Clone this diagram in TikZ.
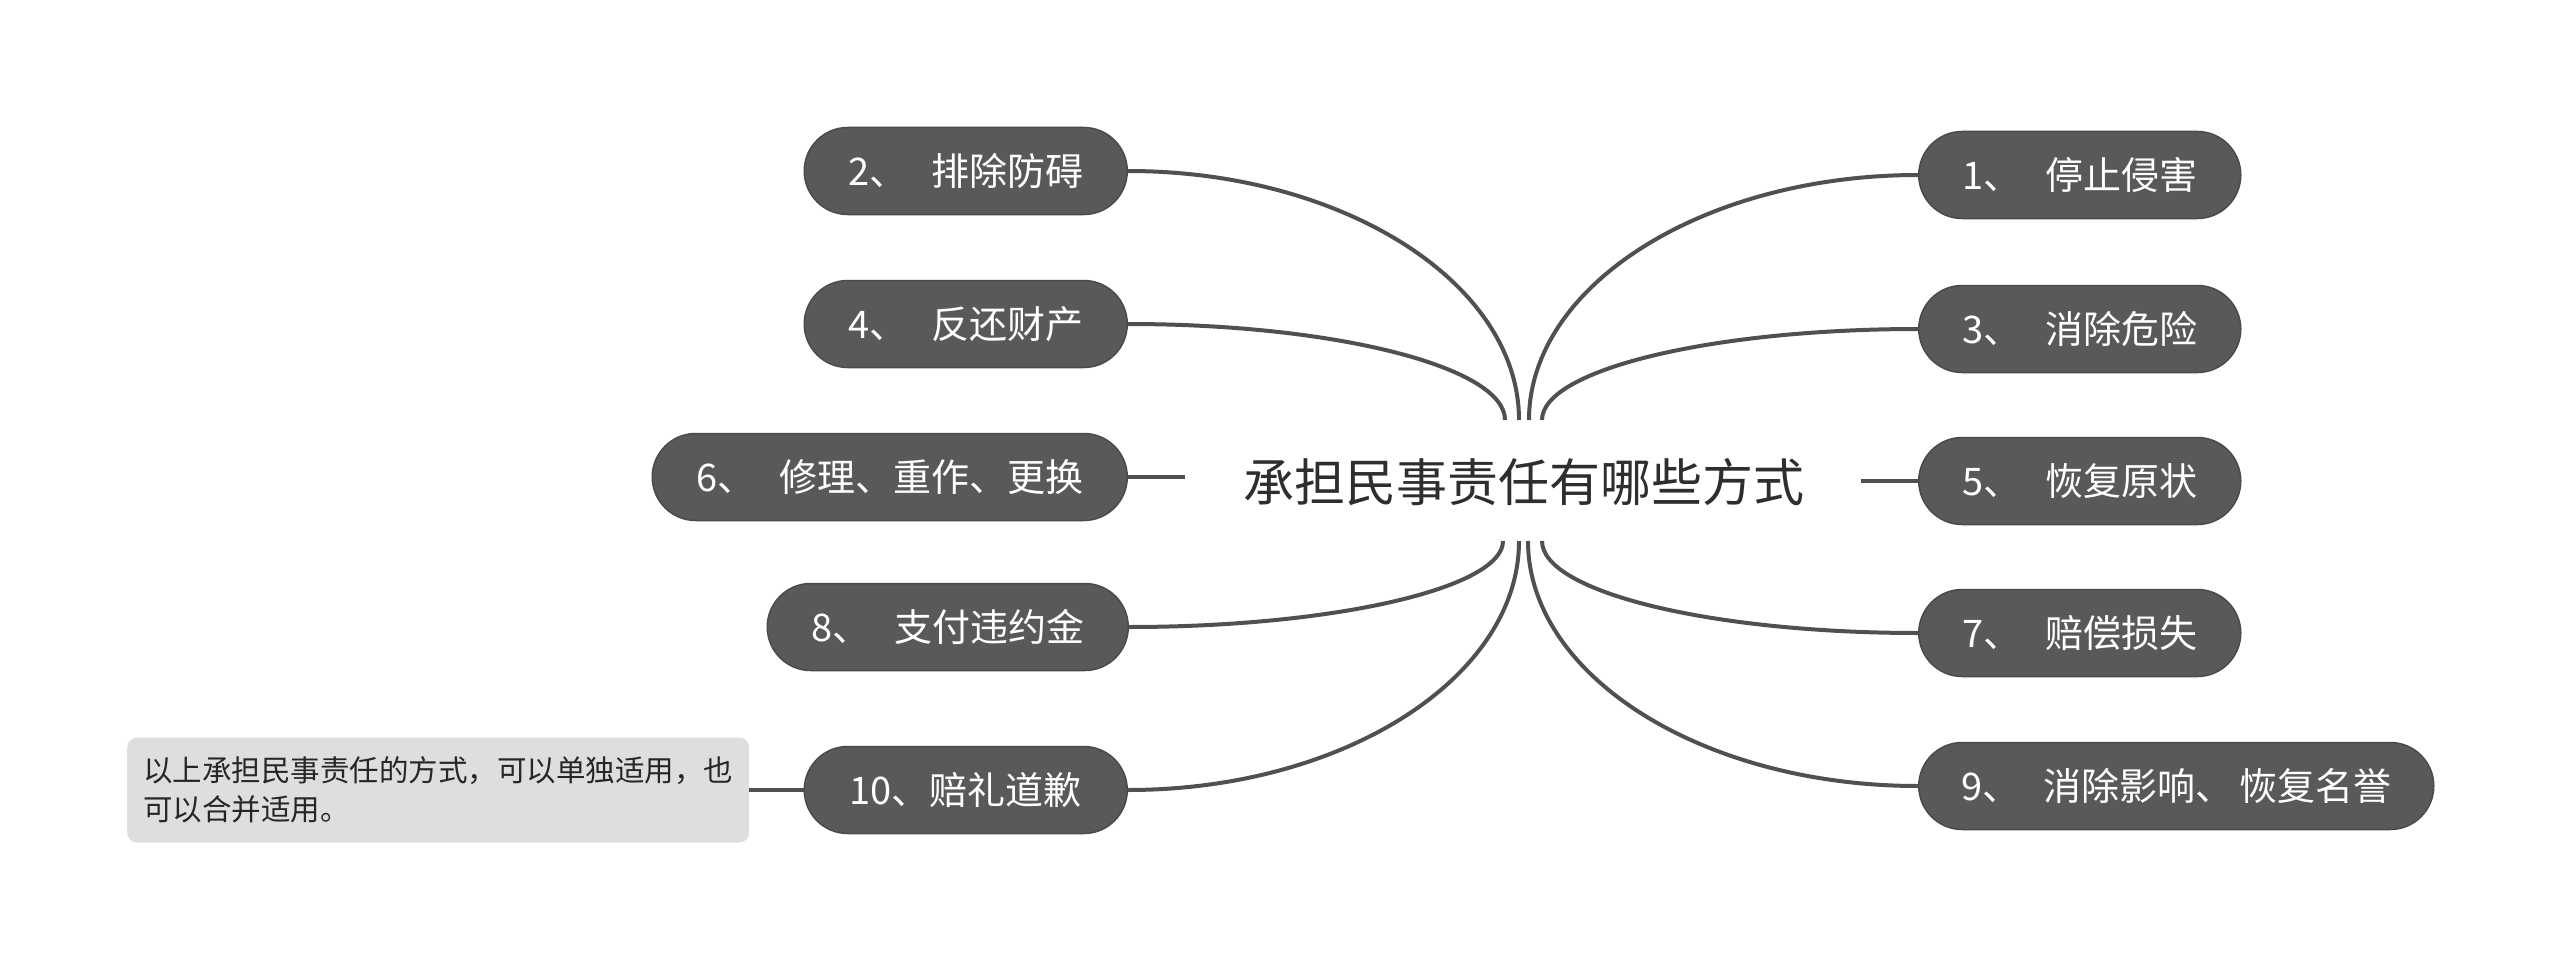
\documentclass[tikz,border=0pt]{standalone}
\usepackage{fontspec}
\setmainfont{Noto Sans CJK SC}
\usetikzlibrary{shapes.misc}
\definecolor{nodegray}{HTML}{595959}
\definecolor{nodeborder}{HTML}{4A4A4A}
\definecolor{conngray}{HTML}{505050}
\definecolor{notegray}{HTML}{DEDEDE}
\definecolor{titlecol}{HTML}{2E2E2E}
\newcommand{\gapA}{\hspace{0.62em}}
\newcommand{\gapB}{\hspace{0.15em}}
\begin{document}
\begin{tikzpicture}[x=1pt,y=-1pt,
  branch/.style={rounded rectangle, fill=nodegray, draw=nodeborder, line width=1.5pt,
    text=white, minimum height=87pt, inner xsep=0pt, inner ysep=0pt,
    font=\fontsize{38}{44}\selectfont},
  conn/.style={draw=conngray, line width=4pt},
  notebox/.style={rectangle, rounded corners=10pt, fill=notegray, text=black!85,
    minimum width=622pt, minimum height=105pt, inner xsep=16pt, inner ysep=0pt,
    align=left, text width=590pt, font=\fontsize{29.5}{39}\selectfont},
  title/.style={text=titlecol, font=\fontsize{51}{60}\selectfont, inner sep=0pt}]
\useasboundingbox (0,0) rectangle (2560,971);

% central title
\node[title] (c) at (1524,482) {承担民事责任有哪些方式};

% right branches
\node[branch, anchor=west, minimum width=322pt] (n1) at (1918,175) {1、\gapA 停止侵害};
\node[branch, anchor=west, minimum width=322pt] (n3) at (1918,329) {3、\gapA 消除危险};
\node[branch, anchor=west, minimum width=322pt] (n5) at (1918,481) {5、\gapA 恢复原状};
\node[branch, anchor=west, minimum width=322pt] (n7) at (1918,633) {7、\gapA 赔偿损失};
\node[branch, anchor=west, minimum width=515pt] (n9) at (1918,786) {9、\gapA 消除影响、\gapB 恢复名誉};

% left branches
\node[branch, anchor=east, minimum width=323pt] (n2) at (1128,171) {2、\gapA 排除防碍};
\node[branch, anchor=east, minimum width=323pt] (n4) at (1128,324) {4、\gapA 反还财产};
\node[branch, anchor=east, minimum width=475pt] (n6) at (1128,477) {6、\gapA 修理、重作、更换};
\node[branch, anchor=east, minimum width=361pt] (n8) at (1129,627) {8、\gapA 支付违约金};
\node[branch, anchor=east, minimum width=323pt] (n10) at (1128,790) {10、赔礼道歉};

% note
\node[notebox, anchor=west] (note) at (127,790) {以上承担民事责任的方式，可以单独适用，也\\可以合并适用。};

% connector end points at the title
\coordinate (t2) at (1519,420);
\coordinate (t4) at (1505,420);
\coordinate (t1) at (1529,420);
\coordinate (t3) at (1542,420);
\coordinate (b8) at (1503,541);
\coordinate (b10) at (1519,541);
\coordinate (b9) at (1528,541);
\coordinate (b7) at (1542,541);
\coordinate (l6) at (1185,477);
\coordinate (r5) at (1861,481);

% connectors
\draw[conn] (n2.east) .. controls +(215,0) and +(0,-137) .. (t2);
\draw[conn] (n4.east) .. controls +(207,0) and +(0,-53) .. (t4);
\draw[conn] (n1.west) .. controls +(-214,0) and +(0,-135) .. (t1);
\draw[conn] (n3.west) .. controls +(-207,0) and +(0,-50) .. (t3);
\draw[conn] (n8.east) .. controls +(205,0) and +(0,47) .. (b8);
\draw[conn] (n10.east) .. controls +(215,0) and +(0,137) .. (b10);
\draw[conn] (n9.west) .. controls +(-215,0) and +(0,135) .. (b9);
\draw[conn] (n7.west) .. controls +(-207,0) and +(0,51) .. (b7);
\draw[conn] (n6.east) -- (l6);
\draw[conn] (r5) -- (n5.west);
\draw[conn] (note.east) -- (n10.west);
\end{tikzpicture}
\end{document}
